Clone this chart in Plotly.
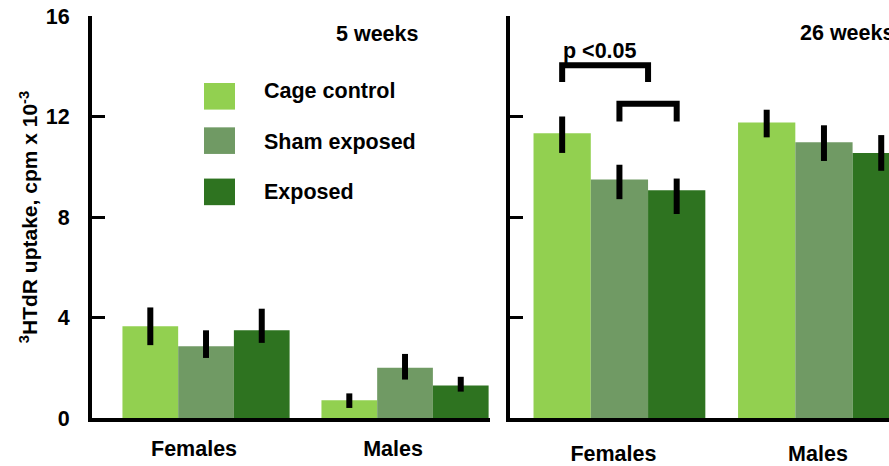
import plotly.graph_objects as go

# ---------------- data ----------------
sexes = ["Females", "Males"]
groups = ["Cage control", "Sham exposed", "Exposed"]
colors = ["#92D050", "#709A64", "#2E7320"]
periods = ["5 weeks", "26 weeks"]

wk5_cage = [3.65, 0.71]
wk5_sham = [2.86, 2.00]
wk5_exposed = [3.49, 1.29]
wk5_cage_up = [0.75, 0.27]
wk5_cage_dn = [0.75, 0.31]
wk5_sham_up = [0.63, 0.55]
wk5_sham_dn = [0.47, 0.47]
wk5_exposed_up = [0.86, 0.35]
wk5_exposed_dn = [0.50, 0.24]

wk26_cage = [11.33, 11.76]
wk26_sham = [9.49, 10.98]
wk26_exposed = [9.06, 10.55]
wk26_cage_up = [0.67, 0.51]
wk26_cage_dn = [0.78, 0.59]
wk26_sham_up = [0.59, 0.67]
wk26_sham_dn = [0.78, 0.75]
wk26_exposed_up = [0.47, 0.71]
wk26_exposed_dn = [0.94, 0.71]

y_ticks = [0, 4, 8, 12, 16]
y_title = "<sup>3</sup>HTdR uptake, cpm x 10<sup>-3</sup>"
sig_label = "p <0.05"

# ---------------- figure ----------------
W, H = 889, 466
ML, MR, MT, MB = 92, 0, 16, 42
PW, PH = W - ML - MR, H - MT - MB


def px(x):
    return (x - ML) / PW


def py(y):
    return (H - MB - y) / PH


FONT = "Liberation Sans, Arial, sans-serif"
FS = 21.5
BARGAP = 0.16
BW = (1 - BARGAP) / 3

fig = go.Figure()

sets = [
    ("x", "y", [wk5_cage, wk5_sham, wk5_exposed],
     [wk5_cage_up, wk5_sham_up, wk5_exposed_up],
     [wk5_cage_dn, wk5_sham_dn, wk5_exposed_dn]),
    ("x2", "y2", [wk26_cage, wk26_sham, wk26_exposed],
     [wk26_cage_up, wk26_sham_up, wk26_exposed_up],
     [wk26_cage_dn, wk26_sham_dn, wk26_exposed_dn]),
]
for xa, ya, vals, ups, dns in sets:
    for g, c, v, u, d in zip(groups, colors, vals, ups, dns):
        fig.add_trace(go.Bar(
            x=sexes, y=v, name=g, xaxis=xa, yaxis=ya,
            marker=dict(color=c, line=dict(width=0)),
            error_y=dict(type="data", symmetric=False, array=u, arrayminus=d,
                         color="black", thickness=6, width=0),
            showlegend=False, hoverinfo="skip",
        ))

axis_common = dict(showline=True, linecolor="black", linewidth=4,
                   showgrid=False, zeroline=False)

fig.update_layout(
    width=W, height=H, autosize=False,
    margin=dict(l=ML, r=MR, t=MT, b=MB, pad=0),
    paper_bgcolor="white", plot_bgcolor="white",
    barmode="group", bargap=BARGAP, bargroupgap=0,
    font=dict(family=FONT, size=FS, color="black", weight="bold"),
    xaxis=dict(domain=[0, px(490)], range=[-0.573, 1.427], anchor="y",
               ticks="", tickfont=dict(size=FS, weight="bold"),
               ticklabelshift=-12, ticklabelstandoff=8, **axis_common),
    yaxis=dict(domain=[0, 1], range=[0, 16], anchor="x", tickvals=y_ticks,
               ticks="inside", ticklen=13, tickwidth=3, tickcolor="black",
               tickfont=dict(size=FS, weight="bold"), ticklabelstandoff=14,
               title=dict(text=y_title, font=dict(size=21, weight="bold"), standoff=3),
               **axis_common),
    xaxis2=dict(domain=[px(510), 1], range=[-0.535, 1.318], anchor="y2",
                ticks="", tickfont=dict(size=FS, weight="bold"),
                ticklabelshift=-6, ticklabelstandoff=13, **axis_common),
    yaxis2=dict(domain=[0, 1], range=[0, 16], anchor="x2", tickvals=y_ticks,
                ticks="inside", ticklen=13, tickwidth=3, tickcolor="black",
                showticklabels=False, **axis_common),
)

# legend (custom, large swatches)
legend_box_y = [(84, 111), (129, 156), (181, 208)]
legend_text_y = [92, 144, 195]
for g, c, (y0, y1), ty in zip(groups, colors, legend_box_y, legend_text_y):
    fig.add_shape(type="rect", xref="paper", yref="paper",
                  x0=px(204), x1=px(235), y0=py(y1), y1=py(y0),
                  fillcolor=c, line=dict(width=0))
    fig.add_annotation(xref="paper", yref="paper", x=px(262), y=py(ty),
                       xanchor="left", yanchor="middle", showarrow=False,
                       text=g, font=dict(size=FS, weight="bold"))

# period labels
fig.add_annotation(xref="paper", yref="paper", x=px(334), y=py(34),
                   xanchor="left", yanchor="middle", showarrow=False,
                   text=periods[0], font=dict(size=FS, weight="bold"))
fig.add_annotation(xref="paper", yref="paper", x=px(798), y=py(33),
                   xanchor="left", yanchor="middle", showarrow=False,
                   text=periods[1], font=dict(size=FS, weight="bold"))

# significance brackets (26 weeks, females)
def bracket(xa, xb, ytop, ybot):
    return f"M {xa},{ybot} L {xa},{ytop} L {xb},{ytop} L {xb},{ybot}"

fig.add_shape(type="path", xref="x2", yref="y2",
              path=bracket(-BW, BW / 2, 14.04, 13.37),
              line=dict(color="black", width=6))
fig.add_shape(type="path", xref="x2", yref="y2",
              path=bracket(0, BW, 12.51, 11.80),
              line=dict(color="black", width=6))
fig.add_annotation(xref="x2", yref="y2", x=-BW - 0.005, y=14.62,
                   xanchor="left", yanchor="middle", showarrow=False,
                   text=sig_label, font=dict(size=FS, weight="bold"))

fig.write_html("out.html", config={"displayModeBar": False},
               post_script="document.body.style.margin='0';document.body.style.overflow='hidden';")
